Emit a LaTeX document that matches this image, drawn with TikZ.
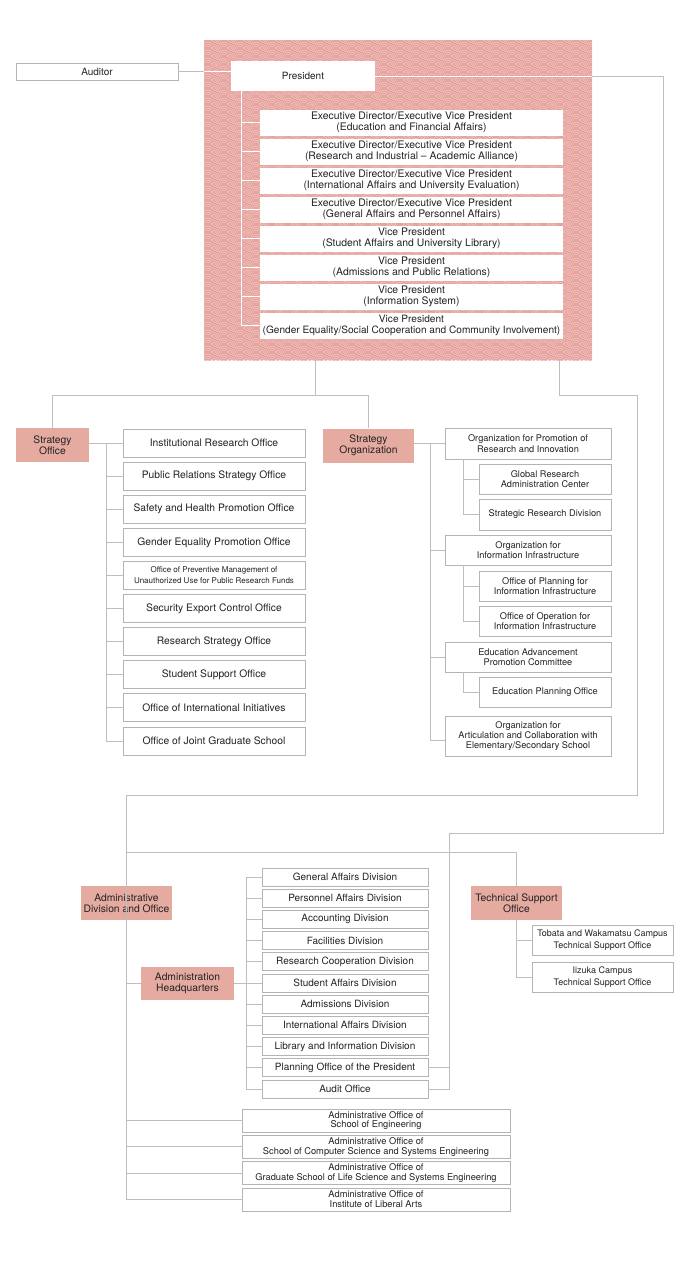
\documentclass[tikz,border=0pt]{standalone}
\usepackage{fontspec}
\setmainfont{TeX Gyre Heros}
\usetikzlibrary{patterns}
\definecolor{lineg}{RGB}{190,190,190}
\definecolor{boxg}{RGB}{180,180,180}
\definecolor{pinkbox}{RGB}{229,170,160}
\definecolor{pbase}{RGB}{240,192,187}
\definecolor{pring}{RGB}{224,146,141}
\definecolor{txt}{RGB}{35,35,35}
\pgfdeclarepatternformonly{seigaiha}{\pgfpoint{0pt}{0pt}}{\pgfpoint{16pt}{8pt}}{\pgfpoint{16pt}{8pt}}{%
  \pgfsetlinewidth{0.55pt}%
  \foreach \cx/\cy in {0/0,16/0,-16/0,0/8,16/8,-16/8,0/-8,16/-8,-16/-8,8/4,-8/4,24/4,8/12,-8/12,24/12,8/-4,-8/-4,24/-4}{%
    \foreach \r/\a/\b in {7.3/31.4/148.6,5.3/35.7/144.3,3.3/36.3/143.7,1.3/13.9/166.1}{%
      \pgfpathmoveto{\pgfpointadd{\pgfpoint{\cx pt}{\cy pt}}{\pgfpointpolar{\a}{\r pt}}}%
      \pgfpatharc{\a}{\b}{\r pt}%
    }%
  }%
  \pgfusepath{stroke}%
}
\tikzset{
  base/.style={inner sep=0pt, align=center, text=txt, font=\fontsize{10}{11}\selectfont},
  wbox/.style={base, draw=boxg, line width=0.7pt, fill=white},
  ebox/.style={base, fill=white, minimum width=303pt, minimum height=26pt, font=\fontsize{10.4}{11}\selectfont},
  pbox/.style={base, fill=pinkbox, minimum width=91pt, minimum height=34pt, font=\fontsize{10.3}{10.8}\selectfont},
  sbox/.style={wbox, minimum width=182pt, minimum height=28pt, font=\fontsize{10.3}{11}\selectfont},
  obox/.style={wbox, minimum width=166pt, minimum height=30pt, font=\fontsize{9.2}{10.3}\selectfont},
  qbox/.style={wbox, minimum width=132pt, minimum height=30pt, font=\fontsize{9.2}{10.3}\selectfont},
  dbox/.style={wbox, minimum width=166pt, minimum height=18pt, font=\fontsize{10}{11}\selectfont},
  abox/.style={wbox, minimum width=268pt, minimum height=23pt, font=\fontsize{9.3}{9.8}\selectfont},
  tbox/.style={wbox, minimum width=141pt, minimum height=30pt, font=\fontsize{9}{11.3}\selectfont},
  conn/.style={draw=lineg, line width=0.8pt},
  wconn/.style={draw=white, line width=1pt},
}
\begin{document}
\begin{tikzpicture}[x=1pt,y=-1pt]
\useasboundingbox (0,0) rectangle (692,1280);
\fill[white] (0,0) rectangle (692,1280);
% patterned background
\fill[pbase] (204,40) rectangle (592,360);
\fill[pattern=seigaiha, pattern color=pring] (204,40) rectangle (592,360);
% top
\node[wbox, minimum width=162pt, minimum height=17pt] (aud) at (97,71.5) {Auditor};
\node[base, fill=white, minimum width=144pt, minimum height=30pt] (pres) at (303,76) {President};
\foreach \t [count=\k from 0] in {
  {Executive Director/Executive Vice President\\(Education and Financial Affairs)},
  {Executive Director/Executive Vice President\\(Research and Industrial -- Academic Alliance)},
  {Executive Director/Executive Vice President\\(International Affairs and University Evaluation)},
  {Executive Director/Executive Vice President\\(General Affairs and Personnel Affairs)},
  {Vice President\\(Student Affairs and University Library)},
  {Vice President\\(Admissions and Public Relations)},
  {Vice President\\(Information System)}}{
  \node[ebox] (e\k) at (411.5,{122.5+29*\k}) {\t};
}
\node[ebox, font=\fontsize{10.1}{11}\selectfont] (e7) at (411.5,325.5) {Vice President\\(Gender Equality/Social Cooperation and Community Involvement)};
\coordinate (t0) at ([xshift=-62pt]pres.south);
\draw[wconn] (t0) -- (t0 |- e7.west);
\foreach \k in {0,...,7} \draw[wconn] (t0 |- e\k.west) -- (e\k.west);
\draw[conn] (aud.east) -- (aud.east -| pres.west);
% strategy office
\node[pbox, minimum width=73pt] (so) at (52.5,445) {Strategy\\Office};
\foreach \t [count=\k from 0] in {
  {Institutional Research Office},
  {Public Relations Strategy Office},
  {Safety and Health Promotion Office},
  {Gender Equality Promotion Office},
  {\fontsize{8}{9}\selectfont Office of Preventive Management of\\\fontsize{8}{9}\selectfont Unauthorized Use for Public Research Funds},
  {Security Export Control Office},
  {Research Strategy Office},
  {Student Support Office},
  {Office of International Initiatives},
  {Office of Joint Graduate School}}{
  \node[sbox] (i\k) at (214,{443+33.1*\k}) {\t};
}
\coordinate (st) at (106,443);
\draw[conn] (so.east |- i0.west) -- (i0.west);
\draw[conn] (st) -- (st |- i9.west);
\foreach \k in {1,...,9} \draw[conn] (st |- i\k.west) -- (i\k.west);
% strategy organization
\node[pbox] (sorg) at (368.5,445.5) {Strategy\\Organization};
\node[obox, minimum height=31pt] (o1) at (528,443.5) {Organization for Promotion of\\Research and Innovation};
\node[qbox] (s1) at (545,479) {Global Research\\Administration Center};
\node[qbox, minimum height=31pt] (s2) at (545,514.5) {Strategic Research Division};
\node[obox] (o2) at (528,550) {Organization for\\Information Infrastructure};
\node[qbox] (s3) at (545,586) {Office of Planning for\\Information Infrastructure};
\node[qbox] (s4) at (545,621) {Office of Operation for\\Information Infrastructure};
\node[obox] (o3) at (528,657) {Education Advancement\\Promotion Committee};
\node[qbox] (s5) at (545,692) {Education Planning Office};
\node[obox, minimum height=40pt] (o4) at (528,736) {Organization for\\Articulation and Collaboration with\\Elementary/Secondary School};
\coordinate (ot) at (430,443.5);
\draw[conn] (sorg.east |- o1.west) -- (o1.west);
\draw[conn] (ot) |- ([yshift=-4pt]o4.west);
\draw[conn] (ot |- o2.west) -- (o2.west);
\draw[conn] (ot |- o3.west) -- (o3.west);
\coordinate (u1) at ([xshift=-65pt]o1.south);
\draw[conn] (u1) |- (s2.west);
\draw[conn] (u1 |- s1.west) -- (s1.west);
\coordinate (u2) at ([xshift=-65pt]o2.south);
\draw[conn] (u2) |- (s4.west);
\draw[conn] (u2 |- s3.west) -- (s3.west);
\coordinate (u3) at ([xshift=-65pt]o3.south);
\draw[conn] (u3) |- (s5.west);
% connectors from the top block
\coordinate (pb1) at (315,360);
\coordinate (hb) at (315,395);
\draw[conn] (pb1) -- (hb);
\draw[conn] (so.north) |- (sorg.north |- hb) -- (sorg.north);
% administrative
\node[pbox] (adm) at (126.5,903) {Administrative\\Division and Office};
\node[pbox, minimum width=93pt, minimum height=33pt] (hq) at (187.5,983) {Administration\\Headquarters};
\foreach \t [count=\k from 0] in {
  {General Affairs Division},
  {Personnel Affairs Division},
  {Accounting Division},
  {Facilities Division},
  {Research Cooperation Division},
  {Student Affairs Division},
  {Admissions Division},
  {International Affairs Division},
  {Library and Information Division},
  {Planning Office of the President},
  {Audit Office}}{
  \node[dbox] (d\k) at (345,{877+21.2*\k}) {\t};
}
\foreach \t [count=\k from 0] in {
  {Administrative Office of\\School of Engineering},
  {Administrative Office of\\School of Computer Science and Systems Engineering},
  {Administrative Office of\\Graduate School of Life Science and Systems Engineering},
  {Administrative Office of\\Institute of Liberal Arts}}{
  \node[abox] (a\k) at (376,{1120.5+26.3*\k}) {\t};
}
\node[pbox] (tech) at (516.5,903) {Technical Support\\Office};
\node[tbox] (tb) at (602.5,940) {Tobata and Wakamatsu Campus\\Technical Support Office};
\node[tbox] (iz) at (602.5,977) {Iizuka Campus\\Technical Support Office};
\coordinate (pb2) at (559,360);
\coordinate (c2) at (637,395);
\coordinate (c3) at (637,795);
\coordinate (c4) at (126.5,795);
\draw[conn] (pb2) |- (c2) -- (c3) -- (c4) -- (c4 |- a3.west) -- (a3.west);
\foreach \k in {0,1,2} \draw[conn] (c4 |- a\k.west) -- (a\k.west);
\draw[conn] (c4 |- hq.west) -- (hq.west);
\coordinate (c5) at (516.5,852);
\draw[conn] (c4 |- c5) -- (c5) -- (tech.north);
\coordinate (dt) at (246,877);
\draw[conn] (hq.east) -- (hq.east -| dt);
\draw[conn] (dt) -- (dt |- d10.west);
\foreach \k in {0,...,10} \draw[conn] (dt |- d\k.west) -- (d\k.west);
\draw[conn] (tech.south) -- (tech.south |- iz.west) -- (iz.west);
\draw[conn] (tech.south |- tb.west) -- (tb.west);
% president to audit
\coordinate (rA) at (663,833);
\coordinate (rB) at (449,833);
\draw[conn] (pres.east) -| (rA) -- (rB) |- (d10.east);
\draw[conn] (d9.east) -- (d9.east -| rB);
% lighter connector parts over the patterned block
\begin{scope}
\clip (204,40) rectangle (592,360);
\draw[wconn] (aud.east) -- (aud.east -| pres.west);
\draw[wconn] (pres.east) -| (rA);
\end{scope}
\end{tikzpicture}
\end{document}
